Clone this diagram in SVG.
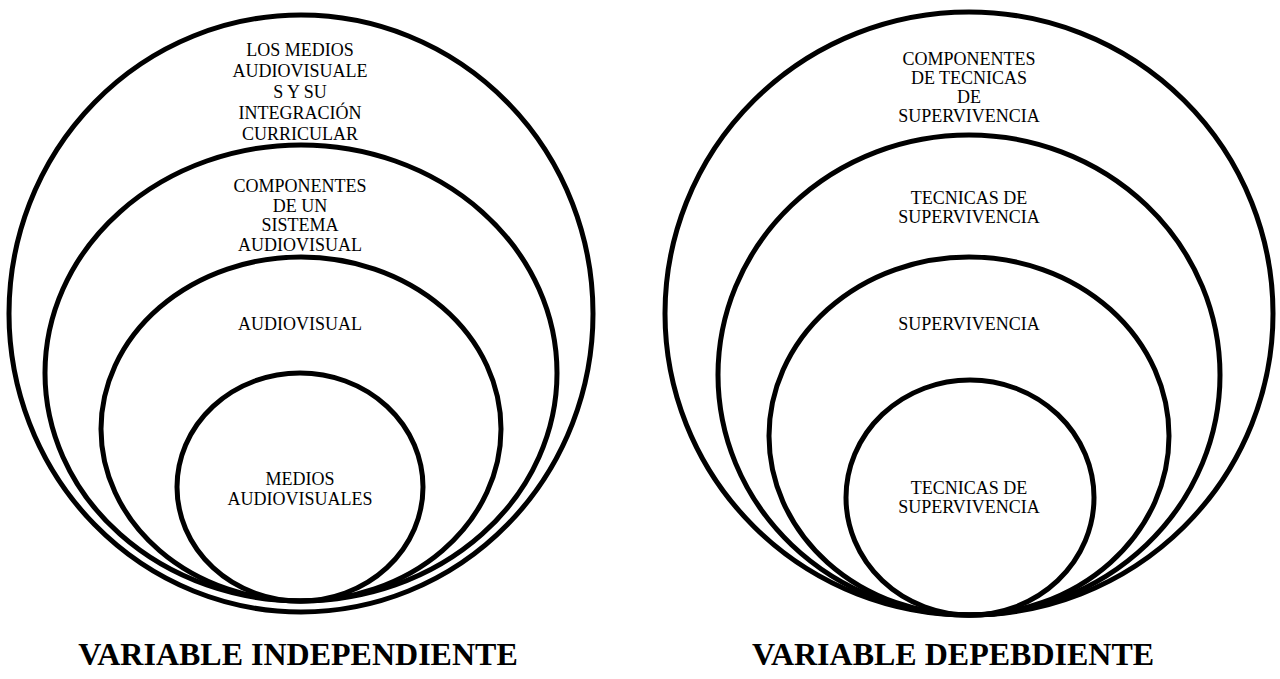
<svg xmlns="http://www.w3.org/2000/svg" width="1280" height="679" viewBox="0 0 1280 679">
<style>
.ring{fill:none;stroke:#000;stroke-width:5}
.lbl{font-family:"Liberation Serif","Times New Roman",serif;font-size:18px;fill:#000;text-anchor:middle}
.ttl{font-family:"Liberation Serif","Times New Roman",serif;font-size:32px;font-weight:bold;fill:#000;text-anchor:middle}
</style>
<rect width="1280" height="679" fill="#fff"/>
<g id="left-diagram">
<g id="l1"><ellipse class="ring" cx="301" cy="313.5" rx="292" ry="298.5"/>
<text class="lbl" x="300" y="56">LOS MEDIOS</text>
<text class="lbl" x="300" y="77">AUDIOVISUALE</text>
<text class="lbl" x="300" y="98">S Y SU</text>
<text class="lbl" x="300" y="119">INTEGRACIÓN</text>
<text class="lbl" x="300" y="140">CURRICULAR</text></g>
<g id="l2"><ellipse class="ring" cx="301" cy="373" rx="256" ry="228"/>
<text class="lbl" x="300" y="192">COMPONENTES</text>
<text class="lbl" x="300" y="212">DE UN</text>
<text class="lbl" x="300" y="231">SISTEMA</text>
<text class="lbl" x="300" y="251">AUDIOVISUAL</text></g>
<g id="l3"><ellipse class="ring" cx="301" cy="429" rx="200" ry="172"/>
<text class="lbl" x="300" y="330">AUDIOVISUAL</text></g>
<g id="l4"><ellipse class="ring" cx="300" cy="487" rx="123" ry="114"/>
<text class="lbl" x="300" y="485">MEDIOS</text>
<text class="lbl" x="300" y="505">AUDIOVISUALES</text></g>
<text id="t-left" class="ttl" x="298" y="665">VARIABLE INDEPENDIENTE</text>
</g>
<g id="right-diagram">
<g id="r1"><ellipse class="ring" cx="969" cy="313.5" rx="304" ry="301.5"/>
<text class="lbl" x="969" y="65">COMPONENTES</text>
<text class="lbl" x="969" y="84">DE TECNICAS</text>
<text class="lbl" x="969" y="103">DE</text>
<text class="lbl" x="969" y="122">SUPERVIVENCIA</text></g>
<g id="r2"><ellipse class="ring" cx="969" cy="375" rx="251" ry="240"/>
<text class="lbl" x="969" y="204">TECNICAS DE</text>
<text class="lbl" x="969" y="223">SUPERVIVENCIA</text></g>
<g id="r3"><ellipse class="ring" cx="969" cy="436" rx="200" ry="179"/>
<text class="lbl" x="969" y="330">SUPERVIVENCIA</text></g>
<g id="r4"><ellipse class="ring" cx="970" cy="497.5" rx="124" ry="117.5"/>
<text class="lbl" x="969" y="494">TECNICAS DE</text>
<text class="lbl" x="969" y="513">SUPERVIVENCIA</text></g>
<text id="t-right" class="ttl" x="953" y="665">VARIABLE DEPEBDIENTE</text>
</g>
<g id="connectors"/>
</svg>
